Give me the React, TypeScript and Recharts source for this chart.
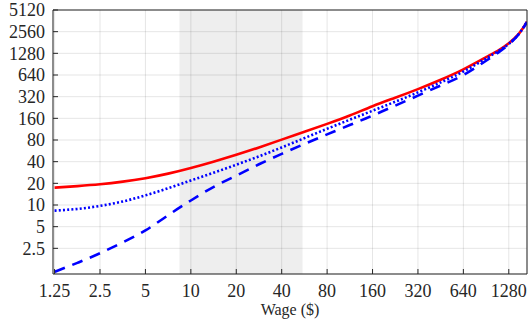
import React from "react";
import {
  LineChart,
  Line,
  XAxis,
  YAxis,
  CartesianGrid,
  ReferenceArea
} from "recharts";

// wage grid ($), log spaced
const wage = [1.25, 1.77, 2.5, 3.54, 5, 7.07, 10, 14.1, 20, 28.3, 40, 56.6, 80, 113, 160, 226, 320, 453, 640, 905, 1100, 1280, 1500, 1690];

// the three curves
const solidRed = [17.4, 18.3, 19.4, 21.1, 23.6, 27.3, 32.7, 40, 49.9, 63.1, 81, 104, 134, 175, 236, 309, 407, 549, 765, 1130, 1420, 1764, 2430, 3520];
const dottedBlue = [8.34, 8.82, 9.71, 11.2, 13.6, 17.1, 21.9, 28, 36.3, 47.5, 63.1, 85, 114.5, 153, 204, 272, 367, 505, 715, 1085, 1390, 1730, 2410, 3510];
const dashedBlue = [1.18, 1.57, 2.14, 3.03, 4.44, 7.21, 11.55, 17.75, 25.6, 36.8, 51.3, 70.5, 95.7, 129, 175, 240, 331, 458, 640, 1010, 1330, 1700, 2400, 3500];

const xTicks = [1.25, 2.5, 5, 10, 20, 40, 80, 160, 320, 640, 1280];
const yTicks = [2.5, 5, 10, 20, 40, 80, 160, 320, 640, 1280, 2560, 5120];

// shaded wage band
const bandFrom = 8.4;
const bandTo = 55;

const data = wage.map((w, i) => ({
  wage: w,
  red: solidRed[i],
  dotted: dottedBlue[i],
  dashed: dashedBlue[i]
}));

const axisColor = "#262626";
const font = "'Liberation Serif', 'DejaVu Serif', serif";

const XTick = (props: any) => {
  const { x, y, payload } = props;
  return (
    <text
      x={x}
      y={y}
      dy="0.71em"
      textAnchor="middle"
      fill={axisColor}
      style={{ fontFamily: font, fontSize: 18 }}
    >
      {payload.value}
    </text>
  );
};

const YTick = (props: any) => {
  const { x, y, payload } = props;
  return (
    <text
      x={x}
      y={y}
      dy="0.355em"
      textAnchor="end"
      fill={axisColor}
      style={{ fontFamily: font, fontSize: 18 }}
    >
      {payload.value}
    </text>
  );
};

const App: React.FC = () => {
  return (
    <div style={{ position: "absolute", left: 0, top: 0 }}>
      <LineChart
        width={528}
        height={325}
        data={data}
        margin={{ top: 0, right: 0, left: 0, bottom: 0 }}
      >
        <CartesianGrid stroke="#000" strokeOpacity={0.1} />
        <ReferenceArea
          x1={bandFrom}
          x2={bandTo}
          fill="#000"
          fillOpacity={0.065}
          stroke="none"
          ifOverflow="hidden"
        />
        <XAxis
          dataKey="wage"
          type="number"
          scale="log"
          domain={[1.22, 1690]}
          allowDataOverflow
          ticks={xTicks}
          interval={0}
          height={51}
          tickSize={-5}
          tickMargin={15}
          stroke={axisColor}
          tick={<XTick />}
          label={{
            value: "Wage ($)",
            position: "insideBottom",
            offset: 10,
            fill: axisColor,
            fontSize: 16,
            style: { fontFamily: font }
          }}
        />
        <XAxis
          xAxisId="top"
          dataKey="wage"
          type="number"
          scale="log"
          orientation="top"
          domain={[1.22, 1690]}
          allowDataOverflow
          ticks={xTicks}
          interval={0}
          height={10}
          tickSize={-5}
          tick={false}
          stroke={axisColor}
        />
        <YAxis
          type="number"
          scale="log"
          domain={[1.1, 5120]}
          allowDataOverflow
          ticks={yTicks}
          interval={0}
          width={53}
          tickSize={-5}
          tickMargin={13}
          stroke={axisColor}
          tick={<YTick />}
        />
        <YAxis
          yAxisId="right"
          orientation="right"
          type="number"
          scale="log"
          domain={[1.1, 5120]}
          allowDataOverflow
          ticks={yTicks}
          interval={0}
          width={1}
          tickSize={-5}
          tick={false}
          stroke={axisColor}
        />
        <Line
          dataKey="red"
          type="natural"
          stroke="#ff0000"
          strokeWidth={2.6}
          dot={false}
          isAnimationActive={false}
        />
        <Line
          dataKey="dotted"
          type="natural"
          stroke="#0000ff"
          strokeWidth={2.6}
          strokeDasharray="2 2.2"
          dot={false}
          isAnimationActive={false}
        />
        <Line
          dataKey="dashed"
          type="natural"
          stroke="#0000ff"
          strokeWidth={2.6}
          strokeDasharray="11 8"
          dot={false}
          isAnimationActive={false}
        />
      </LineChart>
    </div>
  );
};

export default App;
